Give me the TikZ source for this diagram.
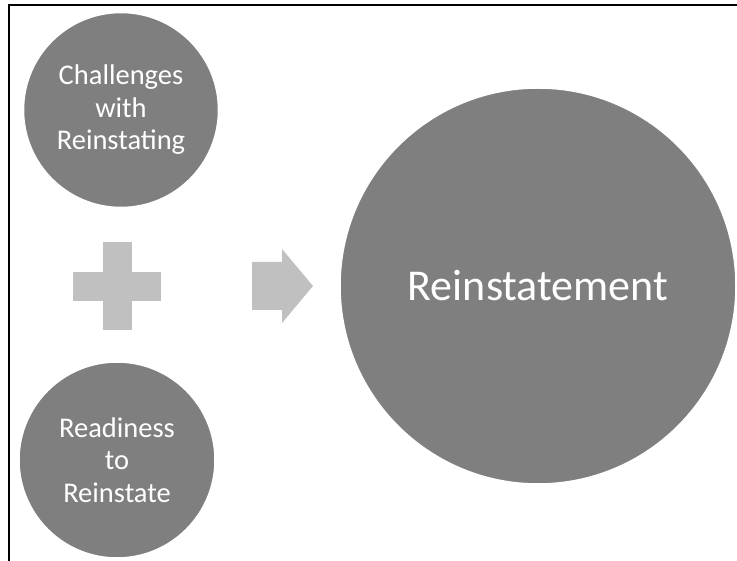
\documentclass[tikz,border=0pt]{standalone}
\usepackage{fontspec}
\setmainfont{Carlito}
\definecolor{circgray}{RGB}{127,127,127}
\definecolor{symgray}{RGB}{192,192,192}
\tikzset{
  bubble/.style={circle, fill=circgray, draw=white, line width=1.5pt, inner sep=0pt, text=white, align=center},
  smalltext/.style={font=\fontsize{28.5}{32.5}\selectfont},
  bigtext/.style={font=\fontsize{44}{50}\selectfont},
  symbol/.style={fill=symgray, draw=none},
  frame/.style={line width=2pt, black}
}
\begin{document}
\begin{tikzpicture}[x=1pt,y=-1pt]
\useasboundingbox (0,0) rectangle (737,561);
% frame
\draw[frame] (8,5) -- (737,5);
\draw[frame] (9,5) -- (9,561);
% circles
\node[bubble, minimum size=195pt, smalltext] (chal) at (121,110) {Challenges\\with\\Reinstating};
\node[bubble, minimum size=196pt, smalltext] (ready) at (117,460) {Readiness\\to\\Reinstate};
\node[bubble, minimum size=396pt, bigtext] (reinst) at (538,286) {Reinstatement};
% plus
\fill[symbol] (103,242) rectangle (132,330);
\fill[symbol] (73,272) rectangle (161,301);
% arrow
\fill[symbol] (252,262) -- (282,262) -- (282,249) -- (313,286) -- (282,323) -- (282,310) -- (252,310) -- cycle;
\end{tikzpicture}
\end{document}
